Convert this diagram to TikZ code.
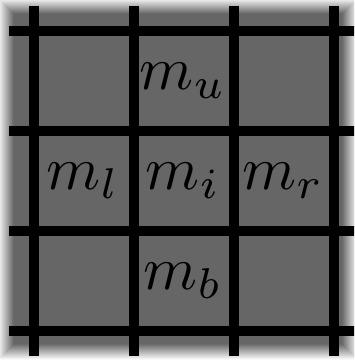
\documentclass[tikz,border=0pt]{standalone}
\usetikzlibrary{positioning}

\definecolor{cellgray}{HTML}{666666}

\begin{document}
\begin{tikzpicture}[
  gridline/.style={line width=2.7pt, black},
  celltext/.style={scale=1.75, transform shape, inner sep=0pt}
]
\useasboundingbox (0,0) rectangle (3.54,3.62);
\clip (0,0) rectangle (3.54,3.62);

% Blurred background
\foreach \i in {0,...,15}{
  \pgfmathsetmacro\pct{(\i+0.5)*100/16}
  \fill[cellgray!\pct!white] (-0.02+\i*0.01,0.02+\i*0.01) rectangle (3.58-\i*0.01,3.64-\i*0.01);
}
\fill[cellgray] (0.14,0.18) rectangle (3.42,3.48);

% Grid
\foreach \k in {0,...,3}{
  \draw[gridline] (0.34+\k,0.06) -- (0.34+\k,3.56);
  \draw[gridline] (0.09,0.31+\k) -- (3.60,0.31+\k);
}

% Cells
\node[celltext] (mi) at (1.83,1.81) {$m_{\scriptstyle i}$};
\node[celltext] (mu) at (1.83,2.81) {$m_{u}$};
\node[celltext] (mb) at (1.83,0.81) {$m_{b}$};
\node[celltext] (ml) at (0.83,1.81) {$m_{l}$};
\node[celltext] (mr) at (2.83,1.81) {$m_{r}$};

\end{tikzpicture}
\end{document}
